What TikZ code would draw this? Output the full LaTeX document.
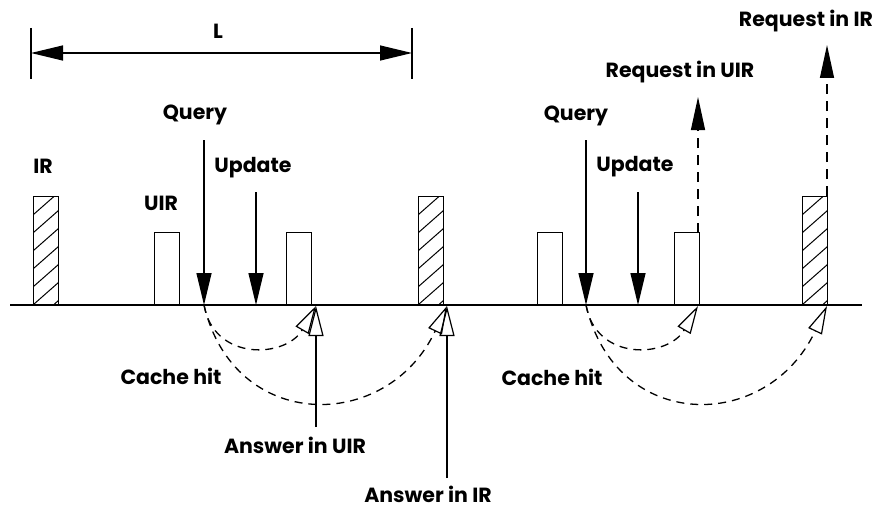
\documentclass[tikz,border=0pt]{standalone}
\usepackage{fontspec}
\setmainfont{Poppins}
\usetikzlibrary{arrows.meta}
\begin{document}
\begin{tikzpicture}[x=1pt,y=-1pt,line width=1.3pt,
  lbl/.style={font=\fontsize{20.5}{23}\selectfont\bfseries,inner sep=0pt},
  bar/.style={draw,line width=1.2pt,minimum width=24.5pt,inner sep=0pt,anchor=south west},
  uirbar/.style={bar,minimum height=72pt},
  irbar/.style={bar,minimum height=108pt,
    path picture={\foreach \k in {-2,...,7}
      \draw[line width=1pt] ([yshift=18*\k pt]path picture bounding box.south west) -- ++(25,-22);}},
  solidhead/.style={-{Triangle[length=32pt,width=15pt]}},
  openhead/.style={-{Triangle[open,length=30pt,width=15pt,line width=1.2pt]}},
  hit/.style={dash pattern=on 8pt off 6pt,-{Triangle[open,length=28pt,width=15pt,line width=1.2pt]}},
  request/.style={dash pattern=on 10pt off 7pt,-{Triangle[length=33pt,width=14pt]}}]
\useasboundingbox (0,0) rectangle (874,508);

% time axis
\coordinate (axL) at (10,305);
\coordinate (axR) at (862,305);
\draw (axL) -- (axR);

% interval length L
\coordinate (dimLt) at (31,28);  \coordinate (dimLb) at (31,79);
\coordinate (dimRt) at (412,28); \coordinate (dimRb) at (412,79);
\coordinate (dimL) at (31,53);   \coordinate (dimR) at (412,53);
\draw (dimLt) -- (dimLb);
\draw (dimRt) -- (dimRb);
\draw[{Triangle[length=32pt,width=15pt]}-{Triangle[length=32pt,width=15pt]}] (dimL) -- (dimR);
\node[lbl] (Llab) at (218,31) {L};

% reports on the channel
\node[irbar]  (ir1)  at (33,305)  {};
\node[uirbar] (uir1) at (154,305) {};
\node[uirbar] (uir2) at (286,305) {};
\node[irbar]  (ir2)  at (418,305) {};
\node[uirbar] (uir3) at (537,305) {};
\node[uirbar] (uir4) at (674,305) {};
\node[irbar]  (ir3)  at (802,305) {};
\node[lbl] (irlab)  at (43,166)  {IR};
\node[lbl] (uirlab) at (161,203) {UIR};

% first period: query answered from cache
\coordinate (q1top) at (204,140); \coordinate (q1) at (204,305);
\coordinate (u1top) at (256,192); \coordinate (u1) at (256,305);
\coordinate (a1) at (316,306);    \coordinate (a1bot) at (316,427);
\coordinate (a2) at (447,306);    \coordinate (a2bot) at (447,478);
\draw[solidhead] (q1top) -- (q1);
\draw[solidhead] (u1top) -- (u1);
\draw[openhead] (a1bot) -- (a1);
\draw[openhead] (a2bot) -- (a2);
\draw[hit] (q1) .. controls (214,362) and (286,358) .. (a1);
\draw[hit] (q1) .. controls (234,433) and (387,433) .. (a2);
\node[lbl] (query1)  at (195,115) {Query};
\node[lbl] (update1) at (253,168) {Update};
\node[lbl] (hit1)    at (171,376) {Cache hit};
\node[lbl] (ansuir)  at (295,445) {Answer in UIR};
\node[lbl] (ansir)   at (428,494) {Answer in IR};

% second period: requests sent after a cache miss
\coordinate (q2top) at (586,140); \coordinate (q2) at (586,305);
\coordinate (u2top) at (638,192); \coordinate (u2) at (638,305);
\coordinate (b1) at (698,306);    \coordinate (b2) at (827,306);
\coordinate (r1bot) at (698,233); \coordinate (r1top) at (698,97);
\coordinate (r2bot) at (827,196); \coordinate (r2top) at (827,45);
\draw[solidhead] (q2top) -- (q2);
\draw[solidhead] (u2top) -- (u2);
\draw[request] (r1bot) -- (r1top);
\draw[request] (r2bot) -- (r2top);
\draw[hit] (q2) .. controls (596,362) and (668,358) .. (b1);
\draw[hit] (q2) .. controls (616,433) and (767,433) .. (b2);
\node[lbl] (query2)  at (576,116) {Query};
\node[lbl] (update2) at (635,167) {Update};
\node[lbl] (hit2)    at (552,377) {Cache hit};
\node[lbl] (requir)  at (680,72)  {Request in UIR};
\node[lbl] (reqir)   at (806,21)  {Request in IR};
\end{tikzpicture}
\end{document}
